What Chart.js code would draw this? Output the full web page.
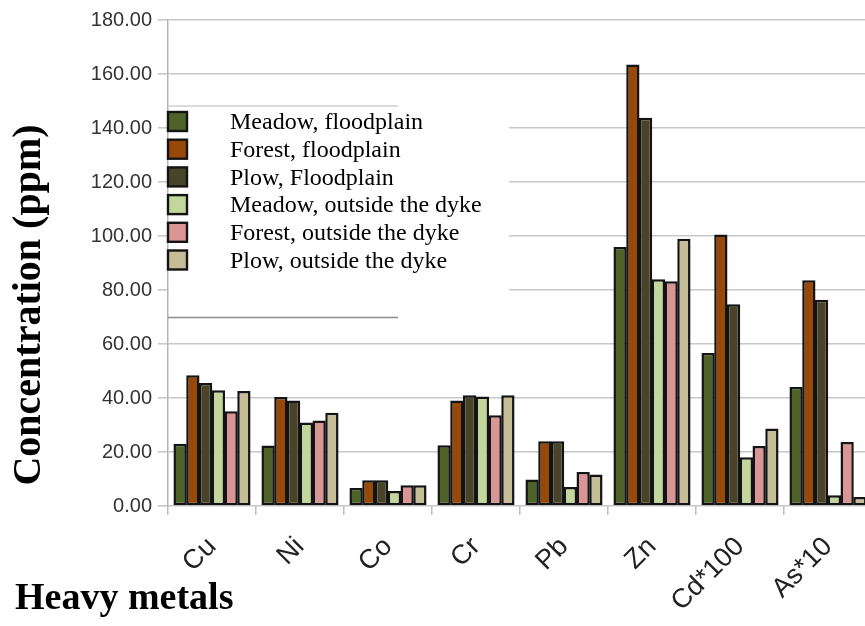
<!DOCTYPE html>
<html>
<head>
<meta charset="utf-8">
<script src="https://cdn.jsdelivr.net/npm/chart.js@4/dist/chart.umd.min.js"></script>
<style>
  html, body { margin: 0; padding: 0; background: #fff; }
  #wrap { width: 865px; height: 626px; overflow: hidden; position: relative; }
  canvas { display: block; }
</style>
</head>
<body>
<div id="wrap"><canvas id="c" width="880" height="626"></canvas></div>
<script>
const categories = ['Cu', 'Ni', 'Co', 'Cr', 'Pb', 'Zn', 'Cd*100', 'As*10'];
const seriesNames = ['Meadow, floodplain', 'Forest, floodplain', 'Plow, Floodplain',
                     'Meadow, outside the dyke', 'Forest, outside the dyke', 'Plow, outside the dyke'];
const meadowFloodplain = [23.1, 22.4, 6.7, 22.5, 9.8, 95.9, 56.7, 44.1];
const forestFloodplain = [48.4, 40.4, 9.5, 39.1, 24.0, 163.5, 100.6, 83.6];
const plowFloodplain   = [45.6, 39.1, 9.5, 41.0, 24.0, 143.8, 74.7, 76.4];
const meadowOutside    = [42.9, 30.9, 5.6, 40.6, 7.0, 84.0, 18.1, 4.0];
const forestOutside    = [35.1, 31.7, 7.7, 33.6, 12.6, 83.2, 22.2, 23.7];
const plowOutside      = [42.6, 34.5, 7.7, 41.0, 11.7, 99.0, 28.7, 3.3];
const yTicks = [0, 20, 40, 60, 80, 100, 120, 140, 160, 180];
const yTitle = 'Concentration (ppm)';
const xTitle = 'Heavy metals';

const colors = ['#4f6228', '#984807', '#494429', '#c3d69b', '#d99694', '#c4bd97'];
const seriesValues = [meadowFloodplain, forestFloodplain, plowFloodplain, meadowOutside, forestOutside, plowOutside];

const datasets = seriesValues.map((vals, i) => ({
  label: seriesNames[i],
  data: vals,
  backgroundColor: colors[i],
  borderColor: '#141414',
  borderWidth: 2.5,
  borderSkipped: false,
  inflateAmount: 0,
  categoryPercentage: 0.87,
  barPercentage: 1.04
}));

const overlayPlugin = {
  id: 'overlay',
  afterDraw(chart) {
    const ctx = chart.ctx;
    const area = chart.chartArea;
    ctx.save();
    // legend box
    ctx.fillStyle = '#ffffff';
    ctx.fillRect(area.left + 1, 106, 340, 212);
    ctx.lineWidth = 1.5;
    ctx.strokeStyle = '#cfcfcf';
    ctx.beginPath(); ctx.moveTo(area.left, 106); ctx.lineTo(398, 106); ctx.stroke();
    ctx.strokeStyle = '#8c8c8c';
    ctx.beginPath(); ctx.moveTo(area.left, 317.5); ctx.lineTo(398, 317.5); ctx.stroke();
    ctx.font = '24px "Liberation Serif", "Times New Roman", serif';
    ctx.textBaseline = 'middle';
    ctx.textAlign = 'left';
    seriesNames.forEach((name, i) => {
      const cy = 122 + i * 27.7;
      ctx.fillStyle = colors[i];
      ctx.fillRect(168, cy - 10, 19, 19);
      ctx.lineWidth = 2.4;
      ctx.strokeStyle = '#141414';
      ctx.strokeRect(168, cy - 10, 19, 19);
      ctx.fillStyle = '#000';
      ctx.fillText(name, 230, cy + 1);
    });
    // y title
    ctx.font = 'bold 40px "Liberation Serif", "Times New Roman", serif';
    ctx.fillStyle = '#000';
    ctx.translate(30, 305);
    ctx.rotate(-Math.PI / 2);
    ctx.textAlign = 'center';
    ctx.textBaseline = 'middle';
    ctx.fillText(yTitle, 0, 0);
    ctx.setTransform(1, 0, 0, 1, 0, 0);
    // x title
    ctx.font = 'bold 38px "Liberation Serif", "Times New Roman", serif';
    ctx.textAlign = 'left';
    ctx.textBaseline = 'alphabetic';
    ctx.fillText(xTitle, 15, 609);
    ctx.restore();
  }
};

new Chart(document.getElementById('c'), {
  type: 'bar',
  data: { labels: categories, datasets: datasets },
  options: {
    responsive: false,
    animation: false,
    layout: { padding: { top: 20, right: 8, left: 0, bottom: 0 } },
    plugins: { legend: { display: false }, tooltip: { enabled: false } },
    scales: {
      x: {
        afterFit(scale) { scale.height = 120; },
        grid: { display: true, drawOnChartArea: false, drawTicks: true, tickLength: 9, color: '#bdbdbd', lineWidth: 1.5, offset: true },
        border: { display: false },
        ticks: {
          minRotation: 45, maxRotation: 45, padding: 16,
          color: '#222',
          font: { family: '"Liberation Sans", Arial, sans-serif', size: 27 }
        }
      },
      y: {
        min: 0, max: 180,
        afterFit(scale) { scale.width = 168; },
        afterBuildTicks(scale) { scale.ticks = yTicks.map(v => ({ value: v })); },
        grid: { color: '#c8c8c8', lineWidth: 1.6, tickLength: 10, drawTicks: true },
        border: { display: true, color: '#b5b5b5', width: 1.5 },
        ticks: {
          padding: 6,
          color: '#333',
          font: { family: '"Liberation Sans", Arial, sans-serif', size: 20 },
          callback: (v) => Number(v).toFixed(2)
        }
      }
    }
  },
  plugins: [overlayPlugin]
});
</script>
</body>
</html>
